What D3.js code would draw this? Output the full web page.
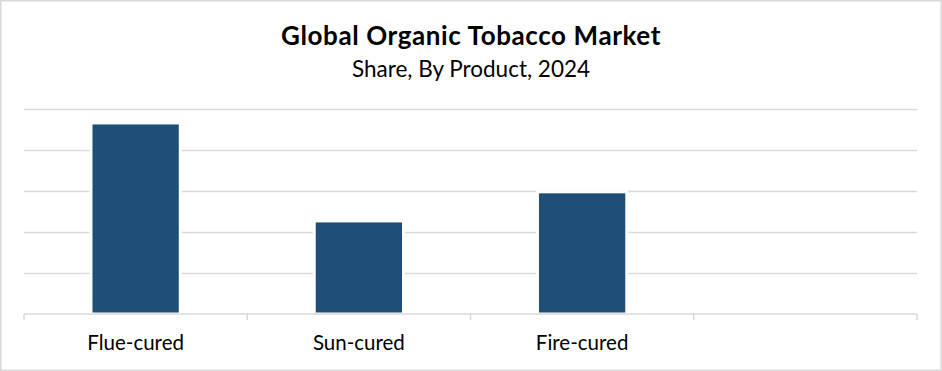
<!DOCTYPE html>
<html>
<head>
<meta charset="utf-8">
<script src="https://cdn.jsdelivr.net/npm/d3@7"></script>
<style>
  body { margin: 0; background: #fff; }
  svg { display: block; font-family: Lato, "Open Sans", sans-serif; }
</style>
</head>
<body>
<svg id="chart"></svg>
<script>
// data (share, %)
const categories = ["Flue-cured", "Sun-cured", "Fire-cured", ""];
const shares = [46.6, 22.7, 29.8, null];
const yTicks = [0, 10, 20, 30, 40, 50];

const title = "Global Organic Tobacco Market";
const subtitle = "Share, By Product, 2024";

const W = 942, H = 371;
const margin = {top: 109, right: 25, bottom: 57, left: 24};
const width = W - margin.left - margin.right,
      height = H - margin.top - margin.bottom;

const svg = d3.select("#chart")
    .attr("width", W)
    .attr("height", H);

// outer frame
svg.append("rect")
    .attr("x", 0.75).attr("y", 0.75)
    .attr("width", W - 1.5).attr("height", H - 1.5)
    .attr("fill", "#fff")
    .attr("stroke", "#d9d9d9")
    .attr("stroke-width", 1.5);

svg.append("text")
    .attr("x", W / 2).attr("y", 45)
    .attr("text-anchor", "middle")
    .style("font-size", "26px")
    .style("font-weight", "bold")
    .style("letter-spacing", "0.6px")
    .attr("fill", "#000")
    .text(title);

svg.append("text")
    .attr("x", W / 2).attr("y", 77)
    .attr("text-anchor", "middle")
    .style("font-size", "22.5px")
    .attr("fill", "#000")
    .text(subtitle);

const g = svg.append("g")
    .attr("transform", `translate(${margin.left},${margin.top})`);

const x = d3.scaleBand()
    .domain(categories.map((c, i) => i))
    .range([0, width])
    .paddingInner(0.6)
    .paddingOuter(0.3);

const y = d3.scaleLinear()
    .domain([0, 50])
    .range([height, 0]);

// gridlines
g.append("g")
    .call(d3.axisLeft(y).tickValues(yTicks.slice(1)).tickSize(-width).tickFormat(""))
    .call(a => a.select(".domain").remove())
    .call(a => a.selectAll(".tick line").attr("stroke", "#d9d9d9").attr("stroke-width", 1.5));

// bars
g.selectAll("rect.bar")
    .data(shares.map((v, i) => ({i, v})).filter(d => d.v != null))
    .join("rect")
    .attr("class", "bar")
    .attr("x", d => x(d.i))
    .attr("width", x.bandwidth())
    .attr("y", d => y(d.v))
    .attr("height", d => y(0) - y(d.v))
    .attr("fill", "#1f4e79")
    .attr("stroke", "#fff")
    .attr("stroke-width", 3);

// category axis: boundaries between slots
const step = width / categories.length;
const xAxis = g.append("g").attr("transform", `translate(0,${height})`);
xAxis.append("line")
    .attr("x1", 0).attr("x2", width)
    .attr("stroke", "#d9d9d9").attr("stroke-width", 1.5);
xAxis.selectAll("line.tick")
    .data(d3.range(categories.length + 1))
    .join("line")
    .attr("class", "tick")
    .attr("x1", d => d * step).attr("x2", d => d * step)
    .attr("y1", 0).attr("y2", 6)
    .attr("stroke", "#d9d9d9").attr("stroke-width", 1.5);
xAxis.selectAll("text")
    .data(categories)
    .join("text")
    .attr("x", (d, i) => x(i) + x.bandwidth() / 2)
    .attr("y", 36)
    .attr("text-anchor", "middle")
    .style("font-size", "20.5px")
    .attr("fill", "#000")
    .text(d => d);
</script>
</body>
</html>
